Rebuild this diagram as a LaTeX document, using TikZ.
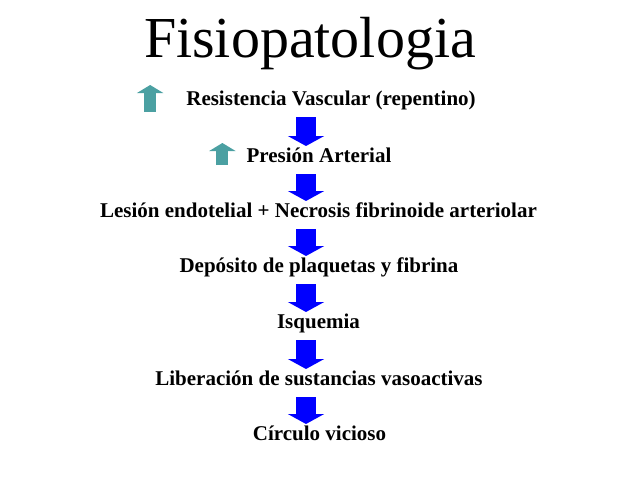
\documentclass[tikz,border=0pt]{standalone}
\usepackage{fontspec}
\setmainfont{Liberation Serif}
\usetikzlibrary{arrows.meta,calc}
\definecolor{azulflecha}{RGB}{0,0,255}
\definecolor{verdeazul}{RGB}{75,160,162}
\begin{document}
\begin{tikzpicture}[x=1pt,y=-1pt,
    paso/.style={anchor=base,font=\fontsize{21}{25}\selectfont\bfseries,inner sep=0pt},
    flecha/.style={azulflecha,line width=20pt,shorten <=12pt,shorten >=16pt,
        -{Triangle[width=36pt,length=10pt]}},
    sube/.style={verdeazul,line width=12pt,-{Triangle[width=26pt,length=8pt]}}]
    \useasboundingbox (0,0) rectangle (638,479);
    \coordinate (ax) at (306,0);
    \node[anchor=base,font=\fontsize{58}{66}\selectfont,inner sep=0pt] (titulo) at (310,57) {Fisiopatologia};
    \node[paso] (res) at (331,105) {Resistencia Vascular (repentino)};
    \node[paso] (pres) at (319,162) {Presión Arterial};
    \node[paso] (les) at (318.5,217) {Lesión endotelial + Necrosis fibrinoide arteriolar};
    \node[paso] (dep) at (319,272) {Depósito de plaquetas y fibrina};
    \node[paso] (isq) at (318.5,328) {Isquemia};
    \node[paso] (lib) at (319,385) {Liberación de sustancias vasoactivas};
    \node[paso] (circ) at (319.5,440) {Círculo vicioso};
    \draw[sube] ($(res.base west)+(-36,7)$) -- ($(res.base west)+(-36,-20)$);
    \draw[sube] ($(pres.base west)+(-24,3)$) -- ($(pres.base west)+(-24,-19)$);
    \foreach \a/\b in {res/pres,pres/les,les/dep,dep/isq,isq/lib,lib/circ}
        \draw[flecha] (\a.base -| ax) -- (\b.base -| ax);
\end{tikzpicture}
\end{document}
